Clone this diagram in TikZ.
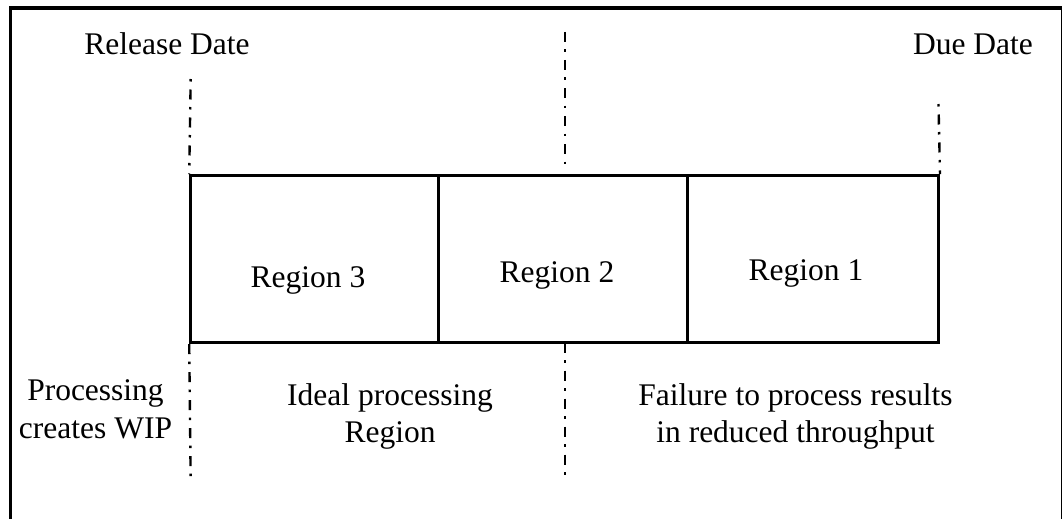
\documentclass[tikz,border=0pt]{standalone}
\usepackage{fontspec}
\setmainfont{Liberation Serif}
\begin{document}
\begin{tikzpicture}[x=1pt,y=-1pt,
  lbl/.style={font=\fontsize{31.5}{37.5}\selectfont, inner sep=0pt, align=center},
  guide/.style={line width=2.4pt, dash pattern=on 10pt off 7.5pt on 2.5pt off 8pt},
  guidedot/.style={line width=2.4pt, dash pattern=on 2.5pt off 8pt on 10pt off 7.5pt},
  cell/.style={draw, line width=3pt, minimum height=167pt, inner sep=0pt}]
\useasboundingbox (0,0) rectangle (1063,519);
% frame
\coordinate (fbl) at (10.5,519.5);
\coordinate (ftl) at (10.5,8);
\coordinate (ftr) at (1061.5,8);
\coordinate (fbr) at (1061.5,519.5);
\draw[line width=3.5pt] (fbl) -- (ftl) -- (ftr);
\draw[line width=1.3pt] (ftr) -- (fbr);
% cells
\node[cell, minimum width=247.6pt] (r3) at (314.5,259.2) {};
\node[cell, minimum width=249.5pt] (r2) at (563.05,259.2) {};
\node[cell, minimum width=250.7pt] (r1) at (813.15,259.2) {};
% guides
\coordinate (gl) at (190.7,79);
\coordinate (gmt) at (565,32);
\coordinate (gmb) at (565,167);
\coordinate (gr) at (938.5,104);
\coordinate (glb) at (190.7,482);
\coordinate (gm2t) at (565,342.7);
\coordinate (gm2b) at (565,482);
\draw[guidedot] (gl) -- (r3.north west);
\draw[guide] (gmt) -- (gmb);
\draw[guidedot] (gr) -- (r1.north east);
\draw[guide] (r3.south west) -- (glb);
\draw[guide] (gm2t) -- (gm2b);
% labels
\node[lbl, anchor=base] (rel) at (167,55) {Release Date};
\node[lbl, anchor=base] (due) at (973,55) {Due Date};
\node[lbl, anchor=base] (t3) at (308,287) {Region 3};
\node[lbl, anchor=base] (t2) at (557,282) {Region 2};
\node[lbl, anchor=base] (t1) at (806,280) {Region 1};
\node[lbl] (wip) at (95.5,409.5) {Processing\\creates WIP};
\node[lbl] (ideal) at (390,416.5) {Ideal processing\\Region};
\node[lbl] (fail) at (795.5,416.5) {Failure to process results\\in reduced throughput};
\end{tikzpicture}
\end{document}
